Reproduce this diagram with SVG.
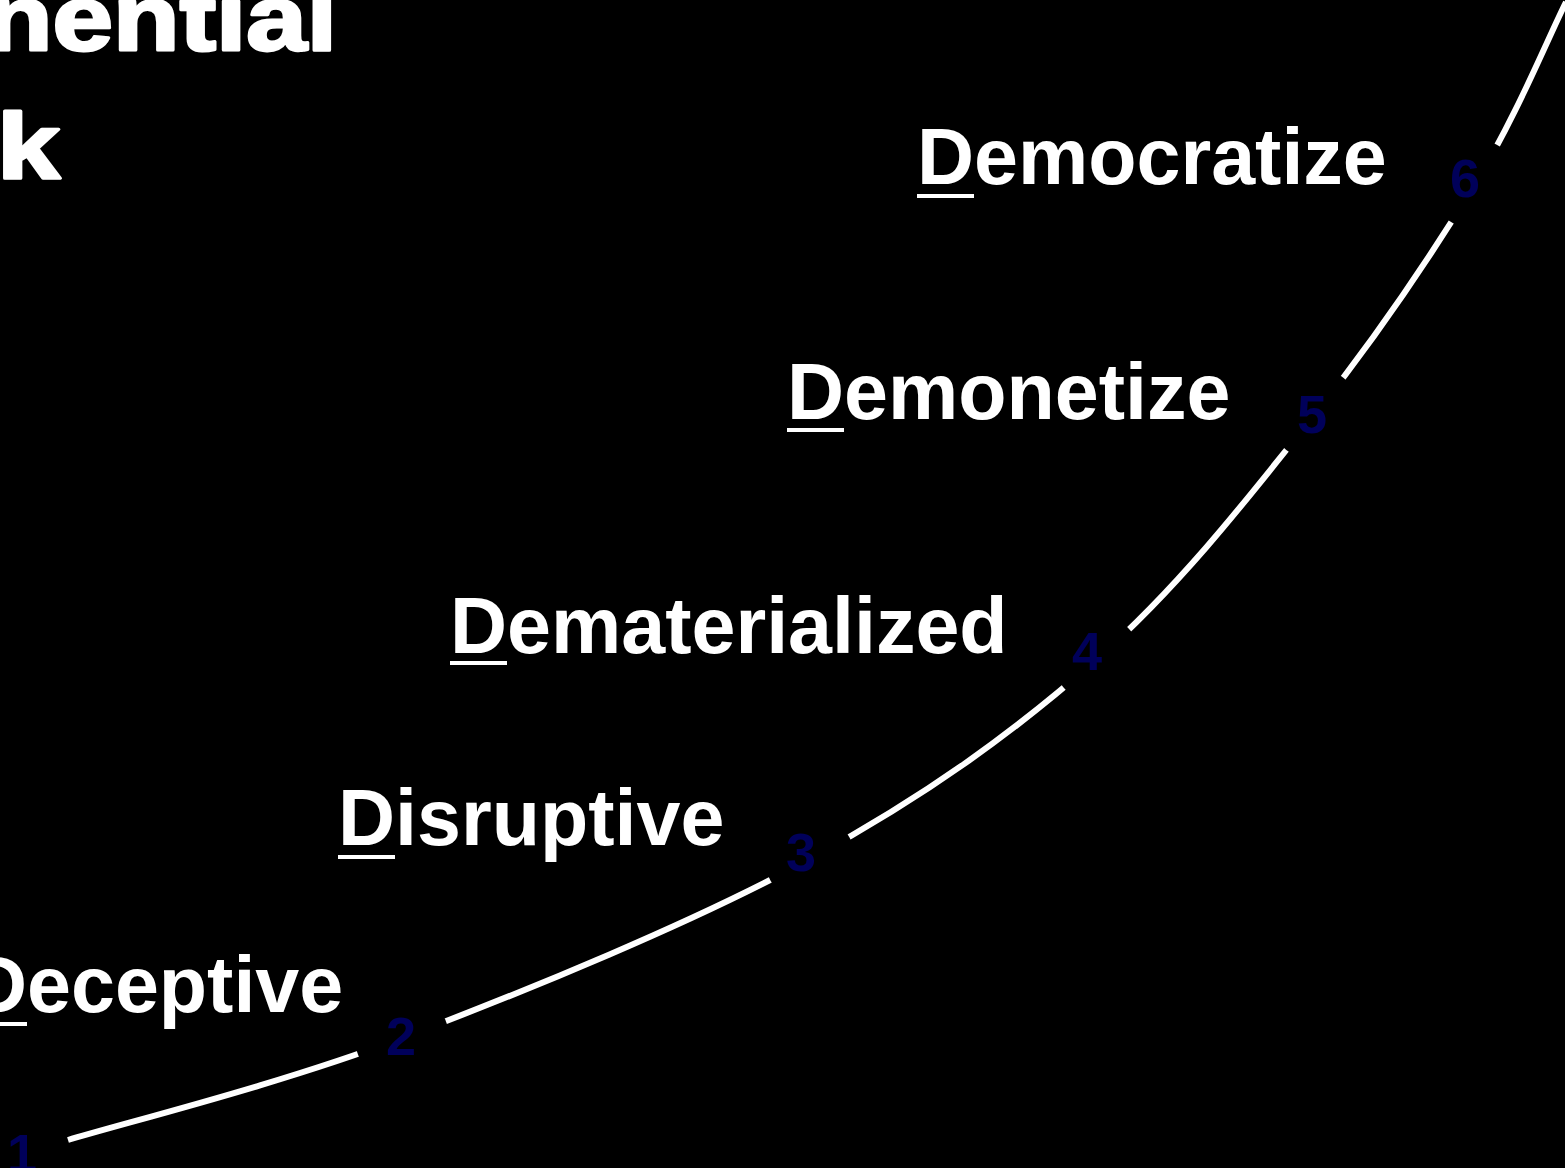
<svg xmlns="http://www.w3.org/2000/svg" width="1565" height="1168" viewBox="0 0 1565 1168">
  <style>
    .lbl { font-family: "Liberation Sans", Arial, sans-serif; font-weight: bold; font-size: 79px; fill: #ffffff; }
    .ul { fill: #ffffff; }
    .num { font-family: "Liberation Sans", Arial, sans-serif; font-weight: bold; font-size: 54px; fill: #00005a; text-anchor: middle; }
    .title { font-family: "Liberation Sans", Arial, sans-serif; font-weight: bold; font-size: 92px; fill: #ffffff; stroke: #ffffff; stroke-width: 3; stroke-linejoin: round; }
    .curve { fill: none; stroke: #ffffff; stroke-width: 6; }
    .gap { fill: #000000; }
  </style>
  <rect x="0" y="0" width="1565" height="1168" fill="#000000"/>

  <g id="title">
    <text class="title" x="-14" y="50" textLength="351" lengthAdjust="spacingAndGlyphs">nential</text>
    <text class="title" x="-3" y="178" textLength="63" lengthAdjust="spacingAndGlyphs">k</text>
  </g>

  <g id="connectors">
    <path class="curve" d="M68,1140 C123.7,1123 278.3,1084.8 402,1038 C525.7,991.2 694.2,922.2 810,859 C925.8,795.8 1012.8,733.2 1097,659 C1181.2,584.8 1252,493.2 1315,414 C1378,334.8 1433.8,251.3 1475,184 C1516.2,116.7 1547.5,39 1566,2"/>
    <circle class="gap" cx="402" cy="1038" r="47"/>
    <circle class="gap" cx="810" cy="859" r="45"/>
    <circle class="gap" cx="1097" cy="659" r="44"/>
    <circle class="gap" cx="1315" cy="414" r="46"/>
    <circle class="gap" cx="1475" cy="184" r="45"/>
  </g>

  <g id="node-1">
    <text class="num" x="22" y="1172">1</text>
  </g>
  <g id="node-2">
    <text class="num" x="401" y="1055">2</text>
    <text class="lbl" x="-30" y="1012">Deceptive</text>
    <rect class="ul" x="-30" y="1022" width="57" height="4"/>
  </g>
  <g id="node-3">
    <text class="num" x="801" y="871">3</text>
    <text class="lbl" x="338" y="845">Disruptive</text>
    <rect class="ul" x="338" y="855" width="57" height="4"/>
  </g>
  <g id="node-4">
    <text class="num" x="1087" y="670">4</text>
    <text class="lbl" x="450" y="653">Dematerialized</text>
    <rect class="ul" x="450" y="661" width="57" height="4"/>
  </g>
  <g id="node-5">
    <text class="num" x="1312" y="433">5</text>
    <text class="lbl" x="787" y="419">Demonetize</text>
    <rect class="ul" x="787" y="428" width="57" height="4"/>
  </g>
  <g id="node-6">
    <text class="num" x="1465" y="197">6</text>
    <text class="lbl" x="917" y="184">Democratize</text>
    <rect class="ul" x="917" y="194" width="57" height="4"/>
  </g>
</svg>
